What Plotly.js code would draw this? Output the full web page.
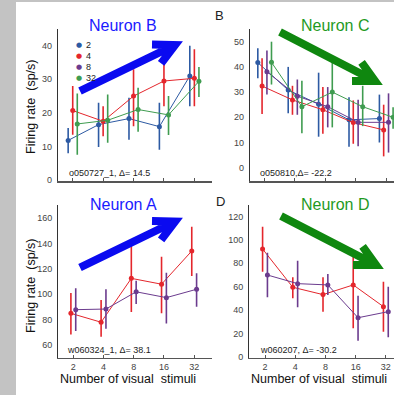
<!DOCTYPE html>
<html>
<head>
<meta charset="utf-8">
<script src="https://cdn.plot.ly/plotly-3.0.1.min.js"></script>
<style>html,body{margin:0;padding:0;background:#fff;}#chart{width:394px;height:395px;}</style>
</head>
<body>
<div id="chart"></div>
<script>
// ---------- DATA ----------
const categories = ['2', '4', '8', '16', '32'];
const legendLabels = ['2', '4', '8', '32'];

// Neuron B (top-left): series 2 (blue), 4 (red), 32 (green)
const nB_blue_mean = [11.8, 16.5, 18.3, 15.9, 31.0];
const nB_blue_hi   = [15.5, 23.0, 24.5, 23.0, 40.0];
const nB_blue_lo   = [8.0, 9.8, 12.0, 9.0, 22.0];
const nB_red_mean  = [20.7, 17.5, 25.0, 29.5, 30.3];
const nB_red_hi    = [28.0, 22.0, 33.0, 37.0, 39.0];
const nB_red_lo    = [13.5, 13.0, 16.0, 22.0, 22.0];
const nB_green_mean = [16.7, 17.8, 21.0, 19.4, 29.4];
const nB_green_hi   = [25.8, 25.5, 27.5, 25.0, 33.7];
const nB_green_lo   = [7.5, 11.1, 14.4, 13.4, 24.7];

// Neuron C (top-right): 2 (blue), 4 (red), 8 (purple), 32 (green)
const nC_blue_mean = [41.7, 30.8, 25.2, 19.0, 19.5];
const nC_blue_hi   = [47.4, 40.0, 37.7, 28.0, 29.0];
const nC_blue_lo   = [35.5, 21.6, 12.3, 8.3, 10.0];
const nC_red_mean  = [32.4, 26.9, 23.0, 17.9, 15.0];
const nC_red_hi    = [43.4, 32.5, 32.0, 26.7, 25.0];
const nC_red_lo    = [21.3, 21.0, 13.5, 9.5, 4.5];
const nC_purple_mean = [38.1, 28.4, 24.2, 18.0, 18.0];
const nC_purple_hi   = [46.5, 35.0, 32.0, 27.0, 29.5];
const nC_purple_lo   = [29.0, 21.0, 16.0, 8.5, 6.0];
const nC_green_mean = [41.8, 24.2, 30.0, 24.2, 20.0];
const nC_green_hi   = [50.0, 34.5, 43.0, 32.5, 24.0];
const nC_green_lo   = [33.0, 13.7, 16.0, 16.5, 15.5];

// Neuron A (bottom-left): 4 (red), 8 (purple)
const nA_red_mean  = [85.0, 78.0, 112.6, 108.0, 134.2];
const nA_red_hi    = [101.0, 95.5, 140.0, 129.7, 153.4];
const nA_red_lo    = [68.4, 66.6, 86.0, 85.0, 114.5];
const nA_purple_mean = [87.9, 88.4, 102.0, 97.4, 104.0];
const nA_purple_hi   = [104.8, 104.0, 110.8, 117.0, 116.6];
const nA_purple_lo   = [71.0, 72.9, 92.4, 77.0, 90.2];

// Neuron D (bottom-right): 4 (red), 8 (purple)
const nD_red_mean  = [92.3, 59.5, 53.2, 61.5, 42.9];
const nD_red_hi    = [111.4, 68.0, 68.0, 88.0, 64.3];
const nD_red_lo    = [72.9, 50.0, 38.6, 24.3, 21.4];
const nD_purple_mean = [70.0, 62.6, 61.5, 33.4, 38.6];
const nD_purple_hi   = [89.0, 82.3, 70.9, 52.3, 60.0];
const nD_purple_lo   = [51.0, 42.3, 52.9, 13.7, 16.6];

const yTicksB = [0, 10, 20, 30, 40];
const yTicksC = [0, 10, 20, 30, 40, 50];
const yTicksA = [60, 80, 100, 120, 140, 160];
const yTicksD = [0, 20, 40, 60, 80, 100, 120];

const noteB = 'o050727_1, Δ= 14.5';
const noteC = 'o050810,Δ= -22.2';
const noteA = 'w060324_1, Δ= 38.1';
const noteD = 'w060207, Δ= -30.2';

// ---------- STYLE ----------
const W = 394, H = 395;
const COL = {blue: '#2d5aa3', red: '#e4262c', purple: '#6b3b8e', green: '#3f9c50'};
const FONT = 'Liberation Sans, Arial, sans-serif';

function trace(mean, hi, lo, color, offset, xa, ya) {
  return {
    x: categories.map((c, i) => i + offset),
    y: mean,
    xaxis: xa, yaxis: ya,
    mode: 'lines+markers',
    line: {color: color, width: 1},
    marker: {color: color, size: 5},
    error_y: {
      type: 'data', symmetric: false,
      array: hi.map((h, i) => h - mean[i]),
      arrayminus: lo.map((l, i) => mean[i] - l),
      color: color, thickness: 1.6, width: 0
    },
    cliponaxis: true,
    hoverinfo: 'skip'
  };
}

const data = [
  trace(nB_blue_mean, nB_blue_hi, nB_blue_lo, COL.blue, -0.15, 'x', 'y'),
  trace(nB_red_mean, nB_red_hi, nB_red_lo, COL.red, 0, 'x', 'y'),
  trace(nB_green_mean, nB_green_hi, nB_green_lo, COL.green, 0.15, 'x', 'y'),

  trace(nC_blue_mean, nC_blue_hi, nC_blue_lo, COL.blue, -0.22, 'x2', 'y2'),
  trace(nC_red_mean, nC_red_hi, nC_red_lo, COL.red, -0.08, 'x2', 'y2'),
  trace(nC_purple_mean, nC_purple_hi, nC_purple_lo, COL.purple, 0.08, 'x2', 'y2'),
  trace(nC_green_mean, nC_green_hi, nC_green_lo, COL.green, 0.23, 'x2', 'y2'),

  trace(nA_red_mean, nA_red_hi, nA_red_lo, COL.red, -0.08, 'x3', 'y3'),
  trace(nA_purple_mean, nA_purple_hi, nA_purple_lo, COL.purple, 0.08, 'x3', 'y3'),

  trace(nD_red_mean, nD_red_hi, nD_red_lo, COL.red, -0.08, 'x4', 'y4'),
  trace(nD_purple_mean, nD_purple_hi, nD_purple_lo, COL.purple, 0.08, 'x4', 'y4')
];

function xAxis(domainPx, range, labels, anchor) {
  return {
    domain: [domainPx[0] / W, domainPx[1] / W], anchor: anchor,
    range: range, tickvals: categories.map((c, i) => i), ticktext: categories,
    showticklabels: labels, ticks: 'inside', ticklen: 3, tickcolor: '#555', tickwidth: 1,
    showline: true, linecolor: '#555', linewidth: 1.5,
    showgrid: false, zeroline: false,
    tickfont: {family: FONT, size: 9, color: '#444'}, fixedrange: true
  };
}
function yAxis(domainPx, range, ticks, anchor) {
  return {
    domain: [1 - domainPx[1] / H, 1 - domainPx[0] / H], anchor: anchor,
    range: range, tickvals: ticks, ticks: '', showline: true,
    linecolor: '#333', linewidth: 1.2, showgrid: false, zeroline: false,
    ticklabelstandoff: 3,
    tickfont: {family: FONT, size: 9, color: '#444'}, fixedrange: true
  };
}

function P(px, py) { return [px / W, 1 - py / H]; }
function arrowPath(tail, tip, len, halfDeg) {
  const dx = tail[0] - tip[0], dy = tail[1] - tip[1];
  const n = Math.hypot(dx, dy), ux = dx / n, uy = dy / n;
  const a = halfDeg * Math.PI / 180, c = Math.cos(a), s = Math.sin(a);
  const a1 = [tip[0] + len * (ux * c - uy * s), tip[1] + len * (ux * s + uy * c)];
  const a2 = [tip[0] + len * (ux * c + uy * s), tip[1] + len * (-ux * s + uy * c)];
  const f = p => { const q = P(p[0], p[1]); return q[0].toFixed(5) + ',' + q[1].toFixed(5); };
  return 'M' + f(tail) + 'L' + f(tip) + 'M' + f(a1) + 'L' + f(tip) + 'L' + f(a2);
}
function arrowShape(tail, tip, color) {
  return {type: 'path', xref: 'paper', yref: 'paper', path: arrowPath(tail, tip, 23, 27),
          line: {color: color, width: 8}, layer: 'above'};
}

const BLUE_ARROW = '#0a0af0', GREEN_ARROW = '#0f870f';

const shapes = [
  {type: 'rect', xref: 'paper', yref: 'paper', x0: 0, x1: 16 / W, y0: 0, y1: 1, fillcolor: '#c3c3c3', line: {width: 0}, layer: 'below'},
  {type: 'rect', xref: 'paper', yref: 'paper', x0: 0, x1: 1, y0: 1 - 2 / H, y1: 1, fillcolor: '#c3c3c3', line: {width: 0}, layer: 'below'},
  arrowShape([80, 91], [175, 45], BLUE_ARROW),
  arrowShape([80, 267.5], [175, 221.5], BLUE_ARROW),
  arrowShape([280, 32], [375, 81], GREEN_ARROW),
  arrowShape([281, 216], [376, 265], GREEN_ARROW)
];

function txt(text, px, py, opts) {
  const p = P(px, py);
  return Object.assign({xref: 'paper', yref: 'paper', x: p[0], y: p[1], text: text, showarrow: false,
    xanchor: 'center', yanchor: 'middle', font: {family: FONT, size: 9, color: '#222'}}, opts || {});
}

const annotations = [
  txt('Neuron B', 123, 25, {font: {family: FONT, size: 16, color: '#1a1aff'}}),
  txt('Neuron C', 335, 25, {font: {family: FONT, size: 16, color: '#1f9a1f'}}),
  txt('Neuron A', 123, 204, {font: {family: FONT, size: 16, color: '#1a1aff'}}),
  txt('Neuron D', 335, 204, {font: {family: FONT, size: 16, color: '#1f9a1f'}}),
  txt('B', 219.5, 16, {font: {family: FONT, size: 13, color: '#222'}}),
  txt('D', 220, 202, {font: {family: FONT, size: 13, color: '#222'}}),
  txt(noteB, 67, 173, {xanchor: 'left'}),
  txt(noteC, 258, 173, {xanchor: 'left'}),
  txt(noteA, 65, 350, {xanchor: 'left'}),
  txt(noteD, 258, 350, {xanchor: 'left'}),
  txt('Firing rate  (sp/s)', 31, 107, {textangle: -90, font: {family: FONT, size: 12.5, color: '#111'}}),
  txt('Firing rate  (sp/s)', 31, 286, {textangle: -90, font: {family: FONT, size: 12.5, color: '#111'}}),
  txt('Number of visual  stimuli', 128, 379, {font: {family: FONT, size: 12.5, color: '#111'}}),
  txt('Number of visual  stimuli', 319, 379, {font: {family: FONT, size: 12.5, color: '#111'}})
];
// custom legend (dots + labels) in the Neuron B panel
const legendColors = [COL.blue, COL.red, COL.purple, COL.green];
const legendRows = [45, 55.7, 66.7, 78.3];
legendLabels.forEach((lab, i) => {
  annotations.push(txt('●', 79, legendRows[i], {font: {family: 'DejaVu Sans', size: 7, color: legendColors[i]}}));
  annotations.push(txt(lab, 84, legendRows[i], {xanchor: 'left', font: {family: FONT, size: 9, color: '#222'}}));
});

const layout = {
  width: W, height: H,
  margin: {l: 0, r: 0, t: 0, b: 0, pad: 0},
  paper_bgcolor: '#ffffff', plot_bgcolor: 'rgba(0,0,0,0)',
  showlegend: false,
  xaxis:  xAxis([58, 211.7], [-0.484, 4.57], false, 'y'),
  yaxis:  yAxis([29, 181], [-0.3, 45], yTicksB, 'x'),
  xaxis2: xAxis([250, 394], [-0.477, 4.26], false, 'y2'),
  yaxis2: yAxis([29, 181], [-5.28, 55.04], yTicksC, 'x2'),
  xaxis3: xAxis([58.3, 211.7], [-0.497, 4.58], true, 'y3'),
  yaxis3: yAxis([205, 357.7], [50, 170.5], yTicksA, 'x3'),
  xaxis4: xAxis([249.3, 394], [-0.52, 4.27], true, 'y4'),
  yaxis4: yAxis([205, 357.7], [-0.86, 130], yTicksD, 'x4'),
  shapes: shapes,
  annotations: annotations
};

Plotly.newPlot('chart', data, layout, {staticPlot: true, displayModeBar: false});
</script>
</body>
</html>
